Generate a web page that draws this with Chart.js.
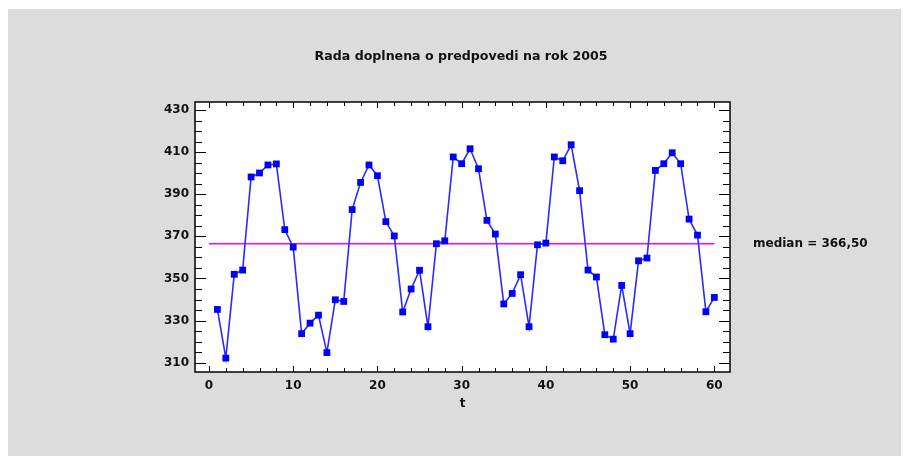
<!DOCTYPE html>
<html>
<head>
<meta charset="utf-8">
<script src="https://cdn.jsdelivr.net/npm/chart.js@4.4.1/dist/chart.umd.min.js"></script>
<style>
body{margin:0;background:#fff;width:903px;height:456px;overflow:hidden;position:relative}
#panel{position:absolute;left:8px;top:9px;width:893px;height:447px;background:#dcdcdc}
</style>
</head>
<body>
<div id="panel"><canvas id="c"></canvas></div>
<script>

/* DATA */

const t=[]
for(let i=1;i<=60;i++) t.push(i)

const values=[
335.3,312.2,352.0,354.0,398.2,400.1,403.9,404.4,373.2,364.9,
323.8,328.8,332.6,314.8,339.9,339.1,382.7,395.6,403.9,398.8,
377.0,370.2,334.1,345.0,353.9,327.1,366.5,367.9,407.7,404.5,
411.6,402.1,377.6,371.1,337.9,342.9,351.8,327.1,366.0,366.8,
407.7,405.9,413.5,391.7,354.0,350.7,323.3,321.2,346.7,323.8,
358.4,359.7,401.3,404.5,409.7,404.5,378.2,370.6,334.2,341.0
]

const median=366.5
const medianRange=[0,60]

const xTicks=[0,10,20,30,40,50,60]
const yTicks=[310,330,350,370,390,410,430]

const title="Rada doplnena o predpovedi na rok 2005"
const xTitle="t"
const medianLabel="median = 366,50"

const FONT="'DejaVu Sans', Verdana, sans-serif"

/* FRAME + INWARD TICKS + TEXTS */

const framePlugin={
id:"frame",
afterDraw(chart){
const ctx=chart.ctx
const a=chart.chartArea
const xs=chart.scales.x
const ys=chart.scales.y

ctx.save()
ctx.strokeStyle="#000"
ctx.lineWidth=1.5
ctx.strokeRect(a.left,a.top,a.right-a.left,a.bottom-a.top)

ctx.lineWidth=1
ctx.beginPath()
xs.ticks.forEach(tk=>{
let px=Math.round(xs.getPixelForValue(tk.value))+0.5
let len=xTicks.includes(tk.value)?6:4
ctx.moveTo(px,a.bottom);ctx.lineTo(px,a.bottom-len)
ctx.moveTo(px,a.top);ctx.lineTo(px,a.top+len)
})
ys.ticks.forEach(tk=>{
let py=Math.round(ys.getPixelForValue(tk.value))+0.5
let len=yTicks.includes(tk.value)?11:7
ctx.moveTo(a.left,py);ctx.lineTo(a.left+len,py)
ctx.moveTo(a.right,py);ctx.lineTo(a.right-len,py)
})
ctx.stroke()

ctx.fillStyle="#111"
ctx.textBaseline="middle"

ctx.font="bold 12.6px "+FONT
ctx.textAlign="center"
ctx.fillText(title,453,48)

ctx.font="bold 12px "+FONT
ctx.textAlign="left"
ctx.fillText(medianLabel,a.right+23,ys.getPixelForValue(median))
ctx.restore()
},
beforeDraw(chart){
const a=chart.chartArea
chart.ctx.save()
chart.ctx.fillStyle="#fff"
chart.ctx.fillRect(a.left,a.top,a.right-a.left,a.bottom-a.top)
chart.ctx.restore()
}
}

new Chart(document.getElementById("c"),{

type:"line",

data:{
datasets:[{
label:"series",
data:t.map((v,i)=>({x:v,y:values[i]})),
borderColor:"#2a2aff",
backgroundColor:"#0000ff",
borderWidth:1.6,
pointStyle:"rect",
pointRadius:4.8,
pointBorderWidth:0,
pointBackgroundColor:"#0000ff",
tension:0
},{
label:"median",
data:medianRange.map(v=>({x:v,y:median})),
borderColor:"#ff00ff",
borderWidth:1.6,
pointRadius:0,
tension:0
}]
},

plugins:[framePlugin],

options:{
responsive:true,
maintainAspectRatio:false,
animation:false,
devicePixelRatio:1,
layout:{padding:{left:147,right:171,top:93,bottom:45}},
plugins:{
legend:{display:false},
tooltip:{enabled:false},
title:{display:false}
},
scales:{
x:{
type:"linear",
min:-1.66,
max:61.86,
afterBuildTicks:s=>{
let arr=[]
for(let v=0;v<=60;v+=2) arr.push({value:v})
s.ticks=arr
},
afterFit:s=>{s.height=39},
grid:{display:false,drawTicks:false},
border:{display:false},
ticks:{
autoSkip:false,
maxRotation:0,
padding:7,
color:"#111",
font:{family:FONT,size:12,weight:"bold"},
callback:v=>xTicks.includes(v)?String(v):""
},
title:{
display:true,
text:xTitle,
color:"#111",
font:{family:FONT,size:12,weight:"bold"},
padding:{top:0,bottom:0}
}
},
y:{
type:"linear",
min:305.6,
max:433.8,
afterBuildTicks:s=>{
let arr=[]
for(let v=310;v<=430;v+=5) arr.push({value:v})
s.ticks=arr
},
afterFit:s=>{s.width=40},
grid:{display:false,drawTicks:false},
border:{display:false},
ticks:{
autoSkip:false,
padding:6,
color:"#111",
font:{family:FONT,size:12,weight:"bold"},
callback:v=>yTicks.includes(v)?String(v):""
}
}
}
}

})

</script>
</body>
</html>
